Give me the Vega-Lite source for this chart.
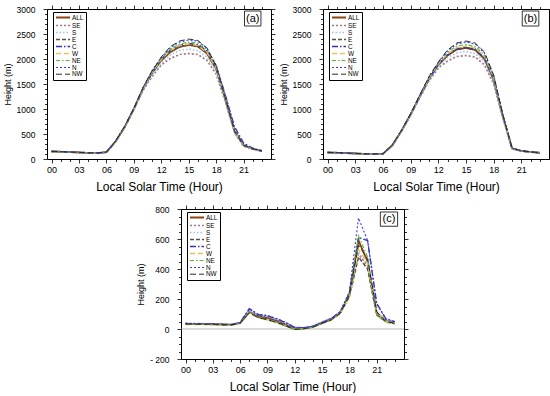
{
"$schema": "https://vega.github.io/schema/vega-lite/v6.json",
"padding": {"left": 2, "top": 4, "right": 2, "bottom": 0},
"spacing": 11,
"config": {
  "font": "Liberation Sans",
  "view": {"stroke": "black", "strokeWidth": 1},
  "axis": {"domain": false, "grid": false, "tickColor": "black", "labelColor": "black", "titleColor": "black", "labelFontSize": 9, "titleFontWeight": "normal", "tickWidth": 0.8, "labelOverlap": false, "labelBound": false},
  "legend": {"orient": "none", "legendX": 6, "legendY": 3, "strokeColor": "black", "fillColor": "white", "padding": 2, "symbolType": "M-1,0H4.6", "symbolSize": 25, "labelFontSize": 6.4, "rowPadding": 0, "labelOffset": 10, "symbolOffset": 0}
},
"datasets": {
"a": [
{"h":0,"s":"ALL","v":150},{"h":1,"s":"ALL","v":145},{"h":2,"s":"ALL","v":138},{"h":3,"s":"ALL","v":130},{"h":4,"s":"ALL","v":122},{"h":5,"s":"ALL","v":118},{"h":6,"s":"ALL","v":135},{"h":7,"s":"ALL","v":350},{"h":8,"s":"ALL","v":640},{"h":9,"s":"ALL","v":1000},{"h":10,"s":"ALL","v":1400},{"h":11,"s":"ALL","v":1720},{"h":12,"s":"ALL","v":1970},{"h":13,"s":"ALL","v":2140},{"h":14,"s":"ALL","v":2240},{"h":15,"s":"ALL","v":2280},{"h":16,"s":"ALL","v":2250},{"h":17,"s":"ALL","v":2110},{"h":18,"s":"ALL","v":1800},{"h":19,"s":"ALL","v":1200},{"h":20,"s":"ALL","v":550},{"h":21,"s":"ALL","v":270},{"h":22,"s":"ALL","v":200},{"h":23,"s":"ALL","v":160},
{"h":0,"s":"SE","v":148},{"h":1,"s":"SE","v":143},{"h":2,"s":"SE","v":136},{"h":3,"s":"SE","v":128},{"h":4,"s":"SE","v":120},{"h":5,"s":"SE","v":116},{"h":6,"s":"SE","v":133},{"h":7,"s":"SE","v":345},{"h":8,"s":"SE","v":630},{"h":9,"s":"SE","v":985},{"h":10,"s":"SE","v":1370},{"h":11,"s":"SE","v":1650},{"h":12,"s":"SE","v":1880},{"h":13,"s":"SE","v":2010},{"h":14,"s":"SE","v":2090},{"h":15,"s":"SE","v":2110},{"h":16,"s":"SE","v":2090},{"h":17,"s":"SE","v":1970},{"h":18,"s":"SE","v":1700},{"h":19,"s":"SE","v":1150},{"h":20,"s":"SE","v":530},{"h":21,"s":"SE","v":260},{"h":22,"s":"SE","v":195},{"h":23,"s":"SE","v":158},
{"h":0,"s":"S","v":149},{"h":1,"s":"S","v":144},{"h":2,"s":"S","v":137},{"h":3,"s":"S","v":129},{"h":4,"s":"S","v":121},{"h":5,"s":"S","v":117},{"h":6,"s":"S","v":134},{"h":7,"s":"S","v":348},{"h":8,"s":"S","v":635},{"h":9,"s":"S","v":990},{"h":10,"s":"S","v":1380},{"h":11,"s":"S","v":1680},{"h":12,"s":"S","v":1920},{"h":13,"s":"S","v":2080},{"h":14,"s":"S","v":2170},{"h":15,"s":"S","v":2200},{"h":16,"s":"S","v":2170},{"h":17,"s":"S","v":2040},{"h":18,"s":"S","v":1750},{"h":19,"s":"S","v":1180},{"h":20,"s":"S","v":540},{"h":21,"s":"S","v":265},{"h":22,"s":"S","v":198},{"h":23,"s":"S","v":159},
{"h":0,"s":"E","v":151},{"h":1,"s":"E","v":146},{"h":2,"s":"E","v":139},{"h":3,"s":"E","v":131},{"h":4,"s":"E","v":123},{"h":5,"s":"E","v":119},{"h":6,"s":"E","v":136},{"h":7,"s":"E","v":352},{"h":8,"s":"E","v":645},{"h":9,"s":"E","v":1005},{"h":10,"s":"E","v":1405},{"h":11,"s":"E","v":1725},{"h":12,"s":"E","v":1980},{"h":13,"s":"E","v":2150},{"h":14,"s":"E","v":2250},{"h":15,"s":"E","v":2290},{"h":16,"s":"E","v":2260},{"h":17,"s":"E","v":2120},{"h":18,"s":"E","v":1810},{"h":19,"s":"E","v":1220},{"h":20,"s":"E","v":580},{"h":21,"s":"E","v":280},{"h":22,"s":"E","v":205},{"h":23,"s":"E","v":162},
{"h":0,"s":"C","v":152},{"h":1,"s":"C","v":147},{"h":2,"s":"C","v":140},{"h":3,"s":"C","v":132},{"h":4,"s":"C","v":124},{"h":5,"s":"C","v":120},{"h":6,"s":"C","v":138},{"h":7,"s":"C","v":355},{"h":8,"s":"C","v":650},{"h":9,"s":"C","v":1010},{"h":10,"s":"C","v":1415},{"h":11,"s":"C","v":1740},{"h":12,"s":"C","v":2000},{"h":13,"s":"C","v":2180},{"h":14,"s":"C","v":2270},{"h":15,"s":"C","v":2310},{"h":16,"s":"C","v":2290},{"h":17,"s":"C","v":2160},{"h":18,"s":"C","v":1860},{"h":19,"s":"C","v":1280},{"h":20,"s":"C","v":650},{"h":21,"s":"C","v":320},{"h":22,"s":"C","v":215},{"h":23,"s":"C","v":165},
{"h":0,"s":"W","v":150},{"h":1,"s":"W","v":145},{"h":2,"s":"W","v":138},{"h":3,"s":"W","v":130},{"h":4,"s":"W","v":122},{"h":5,"s":"W","v":118},{"h":6,"s":"W","v":135},{"h":7,"s":"W","v":350},{"h":8,"s":"W","v":640},{"h":9,"s":"W","v":1000},{"h":10,"s":"W","v":1410},{"h":11,"s":"W","v":1735},{"h":12,"s":"W","v":1990},{"h":13,"s":"W","v":2170},{"h":14,"s":"W","v":2270},{"h":15,"s":"W","v":2300},{"h":16,"s":"W","v":2270},{"h":17,"s":"W","v":2130},{"h":18,"s":"W","v":1820},{"h":19,"s":"W","v":1220},{"h":20,"s":"W","v":560},{"h":21,"s":"W","v":275},{"h":22,"s":"W","v":202},{"h":23,"s":"W","v":160},
{"h":0,"s":"NE","v":151},{"h":1,"s":"NE","v":146},{"h":2,"s":"NE","v":139},{"h":3,"s":"NE","v":131},{"h":4,"s":"NE","v":123},{"h":5,"s":"NE","v":119},{"h":6,"s":"NE","v":136},{"h":7,"s":"NE","v":352},{"h":8,"s":"NE","v":645},{"h":9,"s":"NE","v":1008},{"h":10,"s":"NE","v":1420},{"h":11,"s":"NE","v":1750},{"h":12,"s":"NE","v":2010},{"h":13,"s":"NE","v":2200},{"h":14,"s":"NE","v":2300},{"h":15,"s":"NE","v":2340},{"h":16,"s":"NE","v":2320},{"h":17,"s":"NE","v":2180},{"h":18,"s":"NE","v":1850},{"h":19,"s":"NE","v":1230},{"h":20,"s":"NE","v":570},{"h":21,"s":"NE","v":285},{"h":22,"s":"NE","v":205},{"h":23,"s":"NE","v":162},
{"h":0,"s":"N","v":153},{"h":1,"s":"N","v":148},{"h":2,"s":"N","v":141},{"h":3,"s":"N","v":133},{"h":4,"s":"N","v":125},{"h":5,"s":"N","v":121},{"h":6,"s":"N","v":139},{"h":7,"s":"N","v":358},{"h":8,"s":"N","v":655},{"h":9,"s":"N","v":1015},{"h":10,"s":"N","v":1430},{"h":11,"s":"N","v":1770},{"h":12,"s":"N","v":2030},{"h":13,"s":"N","v":2230},{"h":14,"s":"N","v":2340},{"h":15,"s":"N","v":2380},{"h":16,"s":"N","v":2360},{"h":17,"s":"N","v":2210},{"h":18,"s":"N","v":1880},{"h":19,"s":"N","v":1280},{"h":20,"s":"N","v":620},{"h":21,"s":"N","v":300},{"h":22,"s":"N","v":210},{"h":23,"s":"N","v":165},
{"h":0,"s":"NW","v":152},{"h":1,"s":"NW","v":147},{"h":2,"s":"NW","v":140},{"h":3,"s":"NW","v":132},{"h":4,"s":"NW","v":124},{"h":5,"s":"NW","v":120},{"h":6,"s":"NW","v":137},{"h":7,"s":"NW","v":355},{"h":8,"s":"NW","v":650},{"h":9,"s":"NW","v":1012},{"h":10,"s":"NW","v":1425},{"h":11,"s":"NW","v":1765},{"h":12,"s":"NW","v":2040},{"h":13,"s":"NW","v":2250},{"h":14,"s":"NW","v":2360},{"h":15,"s":"NW","v":2400},{"h":16,"s":"NW","v":2370},{"h":17,"s":"NW","v":2220},{"h":18,"s":"NW","v":1860},{"h":19,"s":"NW","v":1220},{"h":20,"s":"NW","v":560},{"h":21,"s":"NW","v":275},{"h":22,"s":"NW","v":205},{"h":23,"s":"NW","v":162}
],
"b": [
{"h":0,"s":"ALL","v":130},{"h":1,"s":"ALL","v":125},{"h":2,"s":"ALL","v":118},{"h":3,"s":"ALL","v":110},{"h":4,"s":"ALL","v":103},{"h":5,"s":"ALL","v":98},{"h":6,"s":"ALL","v":105},{"h":7,"s":"ALL","v":270},{"h":8,"s":"ALL","v":560},{"h":9,"s":"ALL","v":890},{"h":10,"s":"ALL","v":1250},{"h":11,"s":"ALL","v":1600},{"h":12,"s":"ALL","v":1880},{"h":13,"s":"ALL","v":2070},{"h":14,"s":"ALL","v":2190},{"h":15,"s":"ALL","v":2220},{"h":16,"s":"ALL","v":2180},{"h":17,"s":"ALL","v":2000},{"h":18,"s":"ALL","v":1580},{"h":19,"s":"ALL","v":850},{"h":20,"s":"ALL","v":210},{"h":21,"s":"ALL","v":160},{"h":22,"s":"ALL","v":140},{"h":23,"s":"ALL","v":125},
{"h":0,"s":"SE","v":128},{"h":1,"s":"SE","v":123},{"h":2,"s":"SE","v":116},{"h":3,"s":"SE","v":108},{"h":4,"s":"SE","v":101},{"h":5,"s":"SE","v":96},{"h":6,"s":"SE","v":103},{"h":7,"s":"SE","v":265},{"h":8,"s":"SE","v":550},{"h":9,"s":"SE","v":875},{"h":10,"s":"SE","v":1230},{"h":11,"s":"SE","v":1560},{"h":12,"s":"SE","v":1820},{"h":13,"s":"SE","v":1960},{"h":14,"s":"SE","v":2050},{"h":15,"s":"SE","v":2070},{"h":16,"s":"SE","v":2040},{"h":17,"s":"SE","v":1880},{"h":18,"s":"SE","v":1500},{"h":19,"s":"SE","v":820},{"h":20,"s":"SE","v":205},{"h":21,"s":"SE","v":158},{"h":22,"s":"SE","v":138},{"h":23,"s":"SE","v":123},
{"h":0,"s":"S","v":129},{"h":1,"s":"S","v":124},{"h":2,"s":"S","v":117},{"h":3,"s":"S","v":109},{"h":4,"s":"S","v":102},{"h":5,"s":"S","v":97},{"h":6,"s":"S","v":104},{"h":7,"s":"S","v":268},{"h":8,"s":"S","v":555},{"h":9,"s":"S","v":882},{"h":10,"s":"S","v":1240},{"h":11,"s":"S","v":1580},{"h":12,"s":"S","v":1850},{"h":13,"s":"S","v":2030},{"h":14,"s":"S","v":2120},{"h":15,"s":"S","v":2150},{"h":16,"s":"S","v":2110},{"h":17,"s":"S","v":1940},{"h":18,"s":"S","v":1540},{"h":19,"s":"S","v":830},{"h":20,"s":"S","v":208},{"h":21,"s":"S","v":159},{"h":22,"s":"S","v":139},{"h":23,"s":"S","v":124},
{"h":0,"s":"E","v":131},{"h":1,"s":"E","v":126},{"h":2,"s":"E","v":119},{"h":3,"s":"E","v":111},{"h":4,"s":"E","v":104},{"h":5,"s":"E","v":99},{"h":6,"s":"E","v":106},{"h":7,"s":"E","v":272},{"h":8,"s":"E","v":562},{"h":9,"s":"E","v":893},{"h":10,"s":"E","v":1255},{"h":11,"s":"E","v":1610},{"h":12,"s":"E","v":1890},{"h":13,"s":"E","v":2080},{"h":14,"s":"E","v":2200},{"h":15,"s":"E","v":2230},{"h":16,"s":"E","v":2190},{"h":17,"s":"E","v":2010},{"h":18,"s":"E","v":1600},{"h":19,"s":"E","v":860},{"h":20,"s":"E","v":212},{"h":21,"s":"E","v":161},{"h":22,"s":"E","v":141},{"h":23,"s":"E","v":126},
{"h":0,"s":"C","v":131},{"h":1,"s":"C","v":126},{"h":2,"s":"C","v":119},{"h":3,"s":"C","v":111},{"h":4,"s":"C","v":104},{"h":5,"s":"C","v":99},{"h":6,"s":"C","v":106},{"h":7,"s":"C","v":272},{"h":8,"s":"C","v":565},{"h":9,"s":"C","v":895},{"h":10,"s":"C","v":1260},{"h":11,"s":"C","v":1615},{"h":12,"s":"C","v":1890},{"h":13,"s":"C","v":2080},{"h":14,"s":"C","v":2200},{"h":15,"s":"C","v":2230},{"h":16,"s":"C","v":2200},{"h":17,"s":"C","v":2020},{"h":18,"s":"C","v":1610},{"h":19,"s":"C","v":870},{"h":20,"s":"C","v":215},{"h":21,"s":"C","v":162},{"h":22,"s":"C","v":141},{"h":23,"s":"C","v":126},
{"h":0,"s":"W","v":130},{"h":1,"s":"W","v":125},{"h":2,"s":"W","v":118},{"h":3,"s":"W","v":110},{"h":4,"s":"W","v":103},{"h":5,"s":"W","v":98},{"h":6,"s":"W","v":105},{"h":7,"s":"W","v":270},{"h":8,"s":"W","v":562},{"h":9,"s":"W","v":895},{"h":10,"s":"W","v":1262},{"h":11,"s":"W","v":1620},{"h":12,"s":"W","v":1900},{"h":13,"s":"W","v":2100},{"h":14,"s":"W","v":2230},{"h":15,"s":"W","v":2260},{"h":16,"s":"W","v":2220},{"h":17,"s":"W","v":2050},{"h":18,"s":"W","v":1620},{"h":19,"s":"W","v":860},{"h":20,"s":"W","v":212},{"h":21,"s":"W","v":160},{"h":22,"s":"W","v":140},{"h":23,"s":"W","v":125},
{"h":0,"s":"NE","v":131},{"h":1,"s":"NE","v":126},{"h":2,"s":"NE","v":119},{"h":3,"s":"NE","v":111},{"h":4,"s":"NE","v":104},{"h":5,"s":"NE","v":99},{"h":6,"s":"NE","v":106},{"h":7,"s":"NE","v":272},{"h":8,"s":"NE","v":565},{"h":9,"s":"NE","v":900},{"h":10,"s":"NE","v":1270},{"h":11,"s":"NE","v":1630},{"h":12,"s":"NE","v":1920},{"h":13,"s":"NE","v":2130},{"h":14,"s":"NE","v":2260},{"h":15,"s":"NE","v":2290},{"h":16,"s":"NE","v":2250},{"h":17,"s":"NE","v":2080},{"h":18,"s":"NE","v":1650},{"h":19,"s":"NE","v":870},{"h":20,"s":"NE","v":215},{"h":21,"s":"NE","v":162},{"h":22,"s":"NE","v":141},{"h":23,"s":"NE","v":126},
{"h":0,"s":"N","v":132},{"h":1,"s":"N","v":127},{"h":2,"s":"N","v":120},{"h":3,"s":"N","v":112},{"h":4,"s":"N","v":105},{"h":5,"s":"N","v":100},{"h":6,"s":"N","v":107},{"h":7,"s":"N","v":275},{"h":8,"s":"N","v":570},{"h":9,"s":"N","v":905},{"h":10,"s":"N","v":1280},{"h":11,"s":"N","v":1645},{"h":12,"s":"N","v":1930},{"h":13,"s":"N","v":2160},{"h":14,"s":"N","v":2300},{"h":15,"s":"N","v":2340},{"h":16,"s":"N","v":2300},{"h":17,"s":"N","v":2120},{"h":18,"s":"N","v":1670},{"h":19,"s":"N","v":880},{"h":20,"s":"N","v":218},{"h":21,"s":"N","v":163},{"h":22,"s":"N","v":142},{"h":23,"s":"N","v":127},
{"h":0,"s":"NW","v":132},{"h":1,"s":"NW","v":127},{"h":2,"s":"NW","v":120},{"h":3,"s":"NW","v":112},{"h":4,"s":"NW","v":105},{"h":5,"s":"NW","v":100},{"h":6,"s":"NW","v":107},{"h":7,"s":"NW","v":275},{"h":8,"s":"NW","v":570},{"h":9,"s":"NW","v":905},{"h":10,"s":"NW","v":1285},{"h":11,"s":"NW","v":1650},{"h":12,"s":"NW","v":1940},{"h":13,"s":"NW","v":2180},{"h":14,"s":"NW","v":2320},{"h":15,"s":"NW","v":2360},{"h":16,"s":"NW","v":2320},{"h":17,"s":"NW","v":2140},{"h":18,"s":"NW","v":1680},{"h":19,"s":"NW","v":880},{"h":20,"s":"NW","v":218},{"h":21,"s":"NW","v":163},{"h":22,"s":"NW","v":142},{"h":23,"s":"NW","v":127}
],
"c": [
{"h":0,"s":"ALL","v":35},{"h":1,"s":"ALL","v":33},{"h":2,"s":"ALL","v":33},{"h":3,"s":"ALL","v":32},{"h":4,"s":"ALL","v":30},{"h":5,"s":"ALL","v":28},{"h":6,"s":"ALL","v":40},{"h":7,"s":"ALL","v":115},{"h":8,"s":"ALL","v":85},{"h":9,"s":"ALL","v":75},{"h":10,"s":"ALL","v":55},{"h":11,"s":"ALL","v":30},{"h":12,"s":"ALL","v":2},{"h":13,"s":"ALL","v":5},{"h":14,"s":"ALL","v":15},{"h":15,"s":"ALL","v":40},{"h":16,"s":"ALL","v":65},{"h":17,"s":"ALL","v":110},{"h":18,"s":"ALL","v":230},{"h":19,"s":"ALL","v":590},{"h":20,"s":"ALL","v":450},{"h":21,"s":"ALL","v":110},{"h":22,"s":"ALL","v":55},{"h":23,"s":"ALL","v":40},
{"h":0,"s":"SE","v":38},{"h":1,"s":"SE","v":36},{"h":2,"s":"SE","v":35},{"h":3,"s":"SE","v":33},{"h":4,"s":"SE","v":31},{"h":5,"s":"SE","v":29},{"h":6,"s":"SE","v":42},{"h":7,"s":"SE","v":120},{"h":8,"s":"SE","v":90},{"h":9,"s":"SE","v":82},{"h":10,"s":"SE","v":62},{"h":11,"s":"SE","v":35},{"h":12,"s":"SE","v":5},{"h":13,"s":"SE","v":5},{"h":14,"s":"SE","v":18},{"h":15,"s":"SE","v":45},{"h":16,"s":"SE","v":70},{"h":17,"s":"SE","v":110},{"h":18,"s":"SE","v":220},{"h":19,"s":"SE","v":500},{"h":20,"s":"SE","v":420},{"h":21,"s":"SE","v":100},{"h":22,"s":"SE","v":50},{"h":23,"s":"SE","v":38},
{"h":0,"s":"S","v":36},{"h":1,"s":"S","v":35},{"h":2,"s":"S","v":34},{"h":3,"s":"S","v":33},{"h":4,"s":"S","v":31},{"h":5,"s":"S","v":29},{"h":6,"s":"S","v":41},{"h":7,"s":"S","v":122},{"h":8,"s":"S","v":92},{"h":9,"s":"S","v":85},{"h":10,"s":"S","v":65},{"h":11,"s":"S","v":38},{"h":12,"s":"S","v":8},{"h":13,"s":"S","v":8},{"h":14,"s":"S","v":20},{"h":15,"s":"S","v":48},{"h":16,"s":"S","v":72},{"h":17,"s":"S","v":115},{"h":18,"s":"S","v":225},{"h":19,"s":"S","v":510},{"h":20,"s":"S","v":430},{"h":21,"s":"S","v":105},{"h":22,"s":"S","v":52},{"h":23,"s":"S","v":40},
{"h":0,"s":"E","v":32},{"h":1,"s":"E","v":31},{"h":2,"s":"E","v":31},{"h":3,"s":"E","v":30},{"h":4,"s":"E","v":28},{"h":5,"s":"E","v":26},{"h":6,"s":"E","v":38},{"h":7,"s":"E","v":110},{"h":8,"s":"E","v":78},{"h":9,"s":"E","v":70},{"h":10,"s":"E","v":50},{"h":11,"s":"E","v":25},{"h":12,"s":"E","v":0},{"h":13,"s":"E","v":3},{"h":14,"s":"E","v":13},{"h":15,"s":"E","v":38},{"h":16,"s":"E","v":62},{"h":17,"s":"E","v":105},{"h":18,"s":"E","v":215},{"h":19,"s":"E","v":480},{"h":20,"s":"E","v":400},{"h":21,"s":"E","v":95},{"h":22,"s":"E","v":50},{"h":23,"s":"E","v":35},
{"h":0,"s":"C","v":36},{"h":1,"s":"C","v":34},{"h":2,"s":"C","v":34},{"h":3,"s":"C","v":33},{"h":4,"s":"C","v":31},{"h":5,"s":"C","v":29},{"h":6,"s":"C","v":42},{"h":7,"s":"C","v":135},{"h":8,"s":"C","v":95},{"h":9,"s":"C","v":88},{"h":10,"s":"C","v":68},{"h":11,"s":"C","v":42},{"h":12,"s":"C","v":10},{"h":13,"s":"C","v":8},{"h":14,"s":"C","v":18},{"h":15,"s":"C","v":42},{"h":16,"s":"C","v":68},{"h":17,"s":"C","v":115},{"h":18,"s":"C","v":240},{"h":19,"s":"C","v":610},{"h":20,"s":"C","v":590},{"h":21,"s":"C","v":170},{"h":22,"s":"C","v":70},{"h":23,"s":"C","v":48},
{"h":0,"s":"W","v":30},{"h":1,"s":"W","v":29},{"h":2,"s":"W","v":29},{"h":3,"s":"W","v":28},{"h":4,"s":"W","v":26},{"h":5,"s":"W","v":24},{"h":6,"s":"W","v":36},{"h":7,"s":"W","v":105},{"h":8,"s":"W","v":75},{"h":9,"s":"W","v":62},{"h":10,"s":"W","v":45},{"h":11,"s":"W","v":20},{"h":12,"s":"W","v":-3},{"h":13,"s":"W","v":2},{"h":14,"s":"W","v":10},{"h":15,"s":"W","v":35},{"h":16,"s":"W","v":58},{"h":17,"s":"W","v":100},{"h":18,"s":"W","v":210},{"h":19,"s":"W","v":530},{"h":20,"s":"W","v":440},{"h":21,"s":"W","v":110},{"h":22,"s":"W","v":52},{"h":23,"s":"W","v":38},
{"h":0,"s":"NE","v":34},{"h":1,"s":"NE","v":32},{"h":2,"s":"NE","v":32},{"h":3,"s":"NE","v":31},{"h":4,"s":"NE","v":29},{"h":5,"s":"NE","v":27},{"h":6,"s":"NE","v":38},{"h":7,"s":"NE","v":112},{"h":8,"s":"NE","v":75},{"h":9,"s":"NE","v":60},{"h":10,"s":"NE","v":42},{"h":11,"s":"NE","v":18},{"h":12,"s":"NE","v":-5},{"h":13,"s":"NE","v":0},{"h":14,"s":"NE","v":12},{"h":15,"s":"NE","v":38},{"h":16,"s":"NE","v":62},{"h":17,"s":"NE","v":108},{"h":18,"s":"NE","v":235},{"h":19,"s":"NE","v":620},{"h":20,"s":"NE","v":480},{"h":21,"s":"NE","v":90},{"h":22,"s":"NE","v":45},{"h":23,"s":"NE","v":35},
{"h":0,"s":"N","v":38},{"h":1,"s":"N","v":36},{"h":2,"s":"N","v":35},{"h":3,"s":"N","v":34},{"h":4,"s":"N","v":32},{"h":5,"s":"N","v":30},{"h":6,"s":"N","v":44},{"h":7,"s":"N","v":135},{"h":8,"s":"N","v":98},{"h":9,"s":"N","v":90},{"h":10,"s":"N","v":70},{"h":11,"s":"N","v":45},{"h":12,"s":"N","v":12},{"h":13,"s":"N","v":10},{"h":14,"s":"N","v":20},{"h":15,"s":"N","v":45},{"h":16,"s":"N","v":70},{"h":17,"s":"N","v":118},{"h":18,"s":"N","v":250},{"h":19,"s":"N","v":740},{"h":20,"s":"N","v":590},{"h":21,"s":"N","v":170},{"h":22,"s":"N","v":65},{"h":23,"s":"N","v":50},
{"h":0,"s":"NW","v":33},{"h":1,"s":"NW","v":32},{"h":2,"s":"NW","v":32},{"h":3,"s":"NW","v":31},{"h":4,"s":"NW","v":29},{"h":5,"s":"NW","v":27},{"h":6,"s":"NW","v":38},{"h":7,"s":"NW","v":108},{"h":8,"s":"NW","v":75},{"h":9,"s":"NW","v":62},{"h":10,"s":"NW","v":44},{"h":11,"s":"NW","v":20},{"h":12,"s":"NW","v":-3},{"h":13,"s":"NW","v":2},{"h":14,"s":"NW","v":12},{"h":15,"s":"NW","v":38},{"h":16,"s":"NW","v":60},{"h":17,"s":"NW","v":105},{"h":18,"s":"NW","v":225},{"h":19,"s":"NW","v":560},{"h":20,"s":"NW","v":470},{"h":21,"s":"NW","v":115},{"h":22,"s":"NW","v":50},{"h":23,"s":"NW","v":38}
]
},
"resolve": {"scale": {"color": "independent", "strokeDash": "independent", "strokeWidth": "independent"}, "legend": {"color": "independent", "strokeDash": "independent", "strokeWidth": "independent"}},
"vconcat": [
{
"spacing": 2,
"resolve": {"scale": {"color": "independent", "strokeDash": "independent", "strokeWidth": "independent"}, "legend": {"color": "independent", "strokeDash": "independent", "strokeWidth": "independent"}},
"hconcat": [
{
"width": 224, "height": 150,
"resolve": {"axis": {"x": "independent", "y": "independent"}},
"layer": [
{"data": {"name": "a"}, "mark": {"type": "line", "clip": true},
 "encoding": {
  "x": {"field": "h", "type": "quantitative", "scale": {"domain": [-0.5, 24], "nice": false, "zero": false}, "axis": {"orient": "bottom", "title": "Local Solar Time (Hour)", "titleFontSize": 12, "titlePadding": 7, "labelPadding": 2, "values": [0,1,2,3,4,5,6,7,8,9,10,11,12,13,14,15,16,17,18,19,20,21,22,23], "labelExpr": "datum.value % 3 == 0 ? (datum.value < 10 ? '0' + datum.value : '' + datum.value) : ''", "tickSize": {"condition": {"test": "datum.value % 3 == 0", "value": 4}, "value": 2.5}}},
  "y": {"field": "v", "type": "quantitative", "scale": {"domain": [0, 3000], "nice": false}, "axis": {"orient": "left", "title": "Height (m)", "titleFontSize": 9, "titlePadding": 4, "labelPadding": 8, "labelFontSize": 8.5, "values": [0,100,200,300,400,500,600,700,800,900,1000,1100,1200,1300,1400,1500,1600,1700,1800,1900,2000,2100,2200,2300,2400,2500,2600,2700,2800,2900,3000], "labelExpr": "datum.value % 500 == 0 ? datum.label : ''", "format": "d", "tickSize": {"condition": {"test": "datum.value % 500 == 0", "value": 4}, "value": 2.5}}},
  "color": {"field": "s", "type": "nominal", "scale": {"domain": ["ALL","SE","S","E","C","W","NE","N","NW"], "range": ["#8b4513","#a0788a","#9ec4e6","#5e5040","#3434a8","#e6c25a","#5cb83c","#3a3af0","#2a2a2a"]}, "legend": {"title": null}},
  "strokeDash": {"field": "s", "type": "nominal", "scale": {"domain": ["ALL","SE","S","E","C","W","NE","N","NW"], "range": [[1,0],[2,2],[1.5,2],[4,2],[6,2,1.5,2],[5,3],[4,2,1.5,2],[2,2],[6,3]]}, "legend": {"title": null}},
  "strokeWidth": {"field": "s", "type": "nominal", "scale": {"domain": ["ALL","SE","S","E","C","W","NE","N","NW"], "range": [1.8,1,1,1,1,1,1,1,1]}, "legend": {"title": null}}
 }},
{"data": {"values": [{}]}, "mark": {"type": "rect", "fill": "white", "stroke": "black", "strokeWidth": 0.8},
 "encoding": {
  "x": {"datum": 21.1, "type": "quantitative", "axis": {"orient": "top", "title": null, "labels": false, "values": [0,1,2,3,4,5,6,7,8,9,10,11,12,13,14,15,16,17,18,19,20,21,22,23], "tickSize": {"condition": {"test": "datum.value % 3 == 0", "value": 4}, "value": 2.5}}},
  "x2": {"datum": 22.9},
  "y": {"datum": 2960, "type": "quantitative", "axis": {"orient": "right", "title": null, "labels": false, "values": [0,100,200,300,400,500,600,700,800,900,1000,1100,1200,1300,1400,1500,1600,1700,1800,1900,2000,2100,2200,2300,2400,2500,2600,2700,2800,2900,3000], "tickSize": {"condition": {"test": "datum.value % 500 == 0", "value": 4}, "value": 2.5}}},
  "y2": {"datum": 2660}
 }},
{"data": {"values": [{}]}, "mark": {"type": "text", "fontSize": 11, "baseline": "middle", "align": "center"},
 "encoding": {"x": {"datum": 22, "type": "quantitative", "axis": null}, "y": {"datum": 2810, "type": "quantitative", "axis": null}, "text": {"value": "(a)"}}}
]
},
{
"width": 226, "height": 150,
"resolve": {"axis": {"x": "independent", "y": "independent"}},
"layer": [
{"data": {"name": "b"}, "mark": {"type": "line", "clip": true},
 "encoding": {
  "x": {"field": "h", "type": "quantitative", "scale": {"domain": [-0.5, 24], "nice": false, "zero": false}, "axis": {"orient": "bottom", "title": "Local Solar Time (Hour)", "titleFontSize": 12, "titlePadding": 7, "labelPadding": 2, "values": [0,1,2,3,4,5,6,7,8,9,10,11,12,13,14,15,16,17,18,19,20,21,22,23], "labelExpr": "datum.value % 3 == 0 ? (datum.value < 10 ? '0' + datum.value : '' + datum.value) : ''", "tickSize": {"condition": {"test": "datum.value % 3 == 0", "value": 4}, "value": 2.5}}},
  "y": {"field": "v", "type": "quantitative", "scale": {"domain": [0, 3000], "nice": false}, "axis": {"orient": "left", "title": "Height (m)", "titleFontSize": 9, "titlePadding": 4, "labelPadding": 8, "labelFontSize": 8.5, "values": [0,100,200,300,400,500,600,700,800,900,1000,1100,1200,1300,1400,1500,1600,1700,1800,1900,2000,2100,2200,2300,2400,2500,2600,2700,2800,2900,3000], "labelExpr": "datum.value % 500 == 0 ? datum.label : ''", "format": "d", "tickSize": {"condition": {"test": "datum.value % 500 == 0", "value": 4}, "value": 2.5}}},
  "color": {"field": "s", "type": "nominal", "scale": {"domain": ["ALL","SE","S","E","C","W","NE","N","NW"], "range": ["#8b4513","#a0788a","#9ec4e6","#5e5040","#3434a8","#e6c25a","#5cb83c","#3a3af0","#2a2a2a"]}, "legend": {"title": null}},
  "strokeDash": {"field": "s", "type": "nominal", "scale": {"domain": ["ALL","SE","S","E","C","W","NE","N","NW"], "range": [[1,0],[2,2],[1.5,2],[4,2],[6,2,1.5,2],[5,3],[4,2,1.5,2],[2,2],[6,3]]}, "legend": {"title": null}},
  "strokeWidth": {"field": "s", "type": "nominal", "scale": {"domain": ["ALL","SE","S","E","C","W","NE","N","NW"], "range": [1.8,1,1,1,1,1,1,1,1]}, "legend": {"title": null}}
 }},
{"data": {"values": [{}]}, "mark": {"type": "rect", "fill": "white", "stroke": "black", "strokeWidth": 0.8},
 "encoding": {
  "x": {"datum": 21.1, "type": "quantitative", "axis": {"orient": "top", "title": null, "labels": false, "values": [0,1,2,3,4,5,6,7,8,9,10,11,12,13,14,15,16,17,18,19,20,21,22,23], "tickSize": {"condition": {"test": "datum.value % 3 == 0", "value": 4}, "value": 2.5}}},
  "x2": {"datum": 22.9},
  "y": {"datum": 2960, "type": "quantitative", "axis": {"orient": "right", "title": null, "labels": false, "values": [0,100,200,300,400,500,600,700,800,900,1000,1100,1200,1300,1400,1500,1600,1700,1800,1900,2000,2100,2200,2300,2400,2500,2600,2700,2800,2900,3000], "tickSize": {"condition": {"test": "datum.value % 500 == 0", "value": 4}, "value": 2.5}}},
  "y2": {"datum": 2660}
 }},
{"data": {"values": [{}]}, "mark": {"type": "text", "fontSize": 11, "baseline": "middle", "align": "center"},
 "encoding": {"x": {"datum": 22, "type": "quantitative", "axis": null}, "y": {"datum": 2810, "type": "quantitative", "axis": null}, "text": {"value": "(b)"}}}
]
}
]
},
{
"spacing": 0,
"resolve": {"scale": {"color": "independent", "strokeDash": "independent", "strokeWidth": "independent"}, "legend": {"color": "independent", "strokeDash": "independent", "strokeWidth": "independent"}},
"hconcat": [
{"width": 89, "height": 150, "view": {"stroke": null}, "data": {"values": []}, "mark": "point", "encoding": {}},
{
"width": 223, "height": 150,
"resolve": {"axis": {"x": "independent", "y": "independent"}},
"layer": [
{"data": {"values": [{}]}, "mark": {"type": "rule", "color": "#999999", "strokeWidth": 0.7},
 "encoding": {
  "x": {"datum": -0.5, "type": "quantitative", "scale": {"domain": [-0.5, 24], "nice": false, "zero": false}, "axis": {"orient": "top", "title": null, "labels": false, "values": [0,1,2,3,4,5,6,7,8,9,10,11,12,13,14,15,16,17,18,19,20,21,22,23], "tickSize": {"condition": {"test": "datum.value % 3 == 0", "value": 4}, "value": 2.5}}},
  "x2": {"datum": 24},
  "y": {"datum": 0, "type": "quantitative", "scale": {"domain": [-200, 800], "nice": false}, "axis": {"orient": "right", "title": null, "labels": false, "values": [-200,-150,-100,-50,0,50,100,150,200,250,300,350,400,450,500,550,600,650,700,750,800], "tickSize": {"condition": {"test": "datum.value % 200 == 0", "value": 4}, "value": 2.5}}}
 }},
{"data": {"name": "c"}, "mark": {"type": "line", "clip": true},
 "encoding": {
  "x": {"field": "h", "type": "quantitative", "axis": {"orient": "bottom", "title": "Local Solar Time (Hour)", "titleFontSize": 12, "titlePadding": 7, "labelPadding": 2, "values": [0,1,2,3,4,5,6,7,8,9,10,11,12,13,14,15,16,17,18,19,20,21,22,23], "labelExpr": "datum.value % 3 == 0 ? (datum.value < 10 ? '0' + datum.value : '' + datum.value) : ''", "tickSize": {"condition": {"test": "datum.value % 3 == 0", "value": 4}, "value": 2.5}}},
  "y": {"field": "v", "type": "quantitative", "axis": {"orient": "left", "title": "Height (m)", "titleFontSize": 9, "titlePadding": 4, "labelPadding": 8, "labelFontSize": 8.5, "values": [-200,-150,-100,-50,0,50,100,150,200,250,300,350,400,450,500,550,600,650,700,750,800], "labelExpr": "datum.value % 200 == 0 ? (datum.value < 0 ? '- ' + abs(datum.value) : datum.label) : ''", "format": "d", "tickSize": {"condition": {"test": "datum.value % 200 == 0", "value": 4}, "value": 2.5}}},
  "color": {"field": "s", "type": "nominal", "scale": {"domain": ["ALL","SE","S","E","C","W","NE","N","NW"], "range": ["#8b4513","#a0788a","#9ec4e6","#5e5040","#3434a8","#e6c25a","#5cb83c","#3a3af0","#2a2a2a"]}, "legend": {"title": null}},
  "strokeDash": {"field": "s", "type": "nominal", "scale": {"domain": ["ALL","SE","S","E","C","W","NE","N","NW"], "range": [[1,0],[2,2],[1.5,2],[4,2],[6,2,1.5,2],[5,3],[4,2,1.5,2],[2,2],[6,3]]}, "legend": {"title": null}},
  "strokeWidth": {"field": "s", "type": "nominal", "scale": {"domain": ["ALL","SE","S","E","C","W","NE","N","NW"], "range": [1.8,1,1,1,1,1,1,1,1]}, "legend": {"title": null}}
 }},
{"data": {"values": [{}]}, "mark": {"type": "rect", "fill": "white", "stroke": "black", "strokeWidth": 0.8},
 "encoding": {"x": {"datum": 21.4, "type": "quantitative", "axis": null}, "x2": {"datum": 23.3}, "y": {"datum": 780, "type": "quantitative", "axis": null}, "y2": {"datum": 685}}},
{"data": {"values": [{}]}, "mark": {"type": "text", "fontSize": 11, "baseline": "middle", "align": "center"},
 "encoding": {"x": {"datum": 22.35, "type": "quantitative", "axis": null}, "y": {"datum": 732, "type": "quantitative", "axis": null}, "text": {"value": "(c)"}}}
]
}
]
}
]
}
